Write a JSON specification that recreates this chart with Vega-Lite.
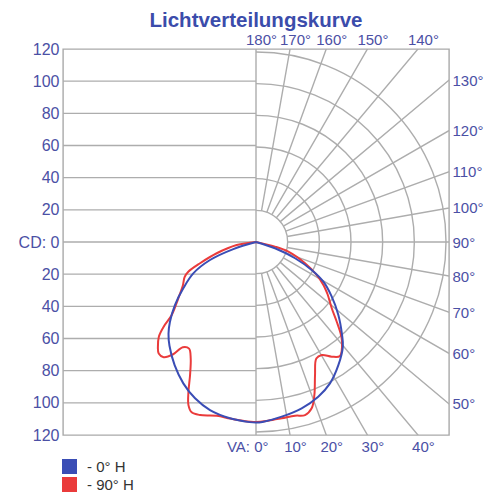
{
  "$schema": "https://vega.github.io/schema/vega-lite/v6.json",
  "width": 386,
  "height": 386,
  "autosize": {"type": "none"},
  "padding": {"left": 63, "top": 49, "right": 47, "bottom": 57},
  "background": "white",
  "title": {"text": "Lichtverteilungskurve", "fontSize": 20.5, "font": "Liberation Sans", "fontWeight": "bold", "color": "#3b4cab", "anchor": "middle", "offset": 1},
  "config": {
    "view": {"stroke": "#a9a9a9", "strokeWidth": 1.4},
    "axis": {"labelFont": "Liberation Sans", "labelFontSize": 15, "labelColor": "#4b50a5", "domain": false, "ticks": false, "grid": false}
  },
  "resolve": {"axis": {"x": "independent", "y": "independent"}},
  "datasets": {
    "hlines": [{"v": -100}, {"v": -80}, {"v": -60}, {"v": -40}, {"v": -20}, {"v": 0}, {"v": 20}, {"v": 40}, {"v": 60}, {"v": 80}, {"v": 100}],
    "arcs": [{"r": 20}, {"r": 40}, {"r": 60}, {"r": 80}, {"r": 100}, {"r": 120}],
    "rays": [{"va": 10}, {"va": 20}, {"va": 30}, {"va": 40}, {"va": 50}, {"va": 60}, {"va": 70}, {"va": 80}, {"va": 90}, {"va": 100}, {"va": 110}, {"va": 120}, {"va": 130}, {"va": 140}, {"va": 150}, {"va": 160}, {"va": 170}],
    "blue": [
      {"s": "0° H", "i": 0, "x": 0, "y": 0},
      {"s": "0° H", "i": 1, "x": -14.1, "y": -4.4},
      {"s": "0° H", "i": 2, "x": -28.6, "y": -11.2},
      {"s": "0° H", "i": 3, "x": -39, "y": -19.5},
      {"s": "0° H", "i": 4, "x": -45.2, "y": -28.8},
      {"s": "0° H", "i": 5, "x": -50.4, "y": -39.2},
      {"s": "0° H", "i": 6, "x": -53.5, "y": -49.6},
      {"s": "0° H", "i": 7, "x": -54.4, "y": -57},
      {"s": "0° H", "i": 8, "x": -53.8, "y": -64.5},
      {"s": "0° H", "i": 9, "x": -50.6, "y": -76.6},
      {"s": "0° H", "i": 10, "x": -45.2, "y": -87.9},
      {"s": "0° H", "i": 11, "x": -37.9, "y": -97.2},
      {"s": "0° H", "i": 12, "x": -28.6, "y": -104.5},
      {"s": "0° H", "i": 13, "x": -16.2, "y": -109.6},
      {"s": "0° H", "i": 14, "x": -4, "y": -112},
      {"s": "0° H", "i": 15, "x": 0, "y": -112.3},
      {"s": "0° H", "i": 16, "x": 4, "y": -111.9},
      {"s": "0° H", "i": 17, "x": 16, "y": -108.6},
      {"s": "0° H", "i": 18, "x": 28.4, "y": -103.4},
      {"s": "0° H", "i": 19, "x": 38.7, "y": -96.2},
      {"s": "0° H", "i": 20, "x": 46, "y": -87.9},
      {"s": "0° H", "i": 21, "x": 51.2, "y": -76.6},
      {"s": "0° H", "i": 22, "x": 54, "y": -65},
      {"s": "0° H", "i": 23, "x": 53.5, "y": -57.8},
      {"s": "0° H", "i": 24, "x": 51.2, "y": -45.4},
      {"s": "0° H", "i": 25, "x": 47.1, "y": -34},
      {"s": "0° H", "i": 26, "x": 41.9, "y": -24.7},
      {"s": "0° H", "i": 27, "x": 34.6, "y": -17.4},
      {"s": "0° H", "i": 28, "x": 24.3, "y": -10.1},
      {"s": "0° H", "i": 29, "x": 11.8, "y": -3.9},
      {"s": "0° H", "i": 30, "x": 0, "y": 0}
    ],
    "red": [
      {"s": "90° H", "i": 0, "x": 0, "y": 0},
      {"s": "90° H", "i": 1, "x": -12, "y": -1.9},
      {"s": "90° H", "i": 2, "x": -24.4, "y": -7},
      {"s": "90° H", "i": 3, "x": -34.8, "y": -13.2},
      {"s": "90° H", "i": 4, "x": -42.1, "y": -18.5},
      {"s": "90° H", "i": 5, "x": -44.4, "y": -21.8},
      {"s": "90° H", "i": 6, "x": -45.4, "y": -26.7},
      {"s": "90° H", "i": 7, "x": -48.3, "y": -35},
      {"s": "90° H", "i": 8, "x": -52.4, "y": -45.4},
      {"s": "90° H", "i": 9, "x": -57.3, "y": -52.5},
      {"s": "90° H", "i": 10, "x": -60.4, "y": -58.9},
      {"s": "90° H", "i": 11, "x": -61, "y": -65.5},
      {"s": "90° H", "i": 12, "x": -60.5, "y": -69.3},
      {"s": "90° H", "i": 13, "x": -57.4, "y": -71.6},
      {"s": "90° H", "i": 14, "x": -51.5, "y": -69.8},
      {"s": "90° H", "i": 15, "x": -45.5, "y": -65.4},
      {"s": "90° H", "i": 16, "x": -41.6, "y": -66.3},
      {"s": "90° H", "i": 17, "x": -40.6, "y": -72.3},
      {"s": "90° H", "i": 18, "x": -41, "y": -82.7},
      {"s": "90° H", "i": 19, "x": -42, "y": -93.1},
      {"s": "90° H", "i": 20, "x": -42, "y": -101.4},
      {"s": "90° H", "i": 21, "x": -40, "y": -105.9},
      {"s": "90° H", "i": 22, "x": -34.8, "y": -107.6},
      {"s": "90° H", "i": 23, "x": -24.4, "y": -108},
      {"s": "90° H", "i": 24, "x": -16, "y": -109.8},
      {"s": "90° H", "i": 25, "x": -8, "y": -111.2},
      {"s": "90° H", "i": 26, "x": 0, "y": -111.9},
      {"s": "90° H", "i": 27, "x": 7.5, "y": -111.1},
      {"s": "90° H", "i": 28, "x": 16, "y": -109.6},
      {"s": "90° H", "i": 29, "x": 24.3, "y": -108},
      {"s": "90° H", "i": 30, "x": 30.5, "y": -107.6},
      {"s": "90° H", "i": 31, "x": 34.6, "y": -103.4},
      {"s": "90° H", "i": 32, "x": 36.3, "y": -95.1},
      {"s": "90° H", "i": 33, "x": 36.7, "y": -82.7},
      {"s": "90° H", "i": 34, "x": 37.5, "y": -72.5},
      {"s": "90° H", "i": 35, "x": 40.9, "y": -70.3},
      {"s": "90° H", "i": 36, "x": 47.1, "y": -71.3},
      {"s": "90° H", "i": 37, "x": 52.2, "y": -70.9},
      {"s": "90° H", "i": 38, "x": 53.5, "y": -62},
      {"s": "90° H", "i": 39, "x": 52.5, "y": -56.5},
      {"s": "90° H", "i": 40, "x": 50.2, "y": -49.6},
      {"s": "90° H", "i": 41, "x": 47.1, "y": -41.2},
      {"s": "90° H", "i": 42, "x": 44.5, "y": -32.5},
      {"s": "90° H", "i": 43, "x": 42.8, "y": -28.5},
      {"s": "90° H", "i": 44, "x": 41.9, "y": -26.7},
      {"s": "90° H", "i": 45, "x": 37.7, "y": -20.5},
      {"s": "90° H", "i": 46, "x": 30.5, "y": -13.2},
      {"s": "90° H", "i": 47, "x": 20.1, "y": -6},
      {"s": "90° H", "i": 48, "x": 11.8, "y": -2.9},
      {"s": "90° H", "i": 49, "x": 0, "y": 0}
    ]
  },
  "layer": [
    {
      "data": {"name": "hlines"},
      "mark": {"type": "rule", "stroke": "#adadad", "strokeWidth": 1.4},
      "encoding": {
        "x": {"datum": -120, "type": "quantitative", "scale": {"domain": [-120, 120], "nice": false, "zero": false},
          "axis": {"orient": "top", "title": null, "values": [0, 21.16, 43.68, 69.28, 100.69],
            "labelExpr": "(180 - round(atan(datum.value/120)*18/PI)*10) + '°'", "labelOffset": 5, "labelPadding": 2, "labelFlush": false, "labelOverlap": false}},
        "x2": {"datum": 0},
        "y": {"field": "v", "type": "quantitative", "scale": {"domain": [-120, 120], "nice": false, "zero": false},
          "axis": {"orient": "left", "title": null, "values": [-120, -100, -80, -60, -40, -20, 0, 20, 40, 60, 80, 100, 120],
            "labelExpr": "datum.value == 0 ? 'CD: 0' : abs(datum.value)", "labelPadding": 4, "labelFontSize": 16, "labelFlush": false, "labelOverlap": false}}
      }
    },
    {
      "data": {"values": [{"c": 0}]},
      "mark": {"type": "rule", "stroke": "#adadad", "strokeWidth": 1.4},
      "encoding": {
        "x": {"field": "c", "type": "quantitative", "axis": null}
      }
    },
    {
      "data": {"name": "arcs"},
      "mark": {"type": "arc", "theta": 0, "theta2": 3.14159, "filled": false, "stroke": "#adadad", "strokeWidth": 1.4},
      "encoding": {
        "x": {"datum": 0, "type": "quantitative",
          "axis": {"orient": "bottom", "title": null, "values": [0, 21.16, 43.68, 69.28, 100.69],
            "labelExpr": "datum.value == 0 ? 'VA: 0°' : (round(atan(datum.value/120)*18/PI)*10) + '°'",
            "labelAlign": {"condition": {"test": "datum.value == 0", "value": "right"}, "value": "center"},
            "labelOffset": {"condition": {"test": "datum.value == 0", "value": 12}, "value": 5},
            "labelPadding": 4, "labelFlush": false, "labelOverlap": false}},
        "y": {"datum": 0, "type": "quantitative",
          "axis": {"orient": "right", "title": null, "values": [100.69, 69.28, 43.68, 21.16, 0, -21.16, -43.68, -69.28, -100.69],
            "labelExpr": "(90 + round(atan(datum.value/120)*18/PI)*10) + '°'", "labelPadding": 3, "labelFlush": false, "labelOverlap": false}},
        "radius": {"field": "r", "type": "quantitative", "scale": {"type": "linear", "domain": [0, 120], "range": [0, 190], "zero": true}},
        "radius2": {"field": "r"}
      }
    },
    {
      "data": {"name": "rays"},
      "mark": {"type": "arc", "clip": true, "filled": false, "stroke": "#adadad", "strokeWidth": 1.4},
      "encoding": {
        "x": {"datum": 0, "type": "quantitative", "axis": null},
        "y": {"datum": 0, "type": "quantitative", "axis": null},
        "theta": {"field": "va", "type": "quantitative", "stack": null, "scale": {"type": "linear", "domain": [0, 180], "range": [3.14159265, 0]}},
        "theta2": {"field": "va"},
        "radius": {"datum": 20, "type": "quantitative"},
        "radius2": {"datum": 180}
      }
    },
    {
      "data": {"name": "red"},
      "mark": {"type": "line", "interpolate": "catmull-rom", "strokeWidth": 2},
      "encoding": {
        "x": {"field": "x", "type": "quantitative", "axis": null},
        "y": {"field": "y", "type": "quantitative", "axis": null},
        "order": {"field": "i", "type": "quantitative"},
        "color": {"field": "s", "type": "nominal", "scale": {"domain": ["0° H", "90° H"], "range": ["#3a4db5", "#ea3b3b"]},
          "legend": {"orient": "none", "legendX": -1, "legendY": 410, "title": null, "symbolType": "square", "symbolSize": 225, "symbolStrokeWidth": 0,
            "labelFont": "Liberation Sans", "labelFontSize": 15, "labelColor": "#333333", "labelExpr": "'- ' + datum.label", "rowPadding": 2, "padding": 0, "labelOffset": 10,
            "encode": {"symbols": {"update": {"fill": {"scale": "color", "field": "value"}, "fillOpacity": {"value": 1}}}}}}
      }
    },
    {
      "data": {"name": "blue"},
      "mark": {"type": "line", "interpolate": "catmull-rom", "strokeWidth": 2},
      "encoding": {
        "x": {"field": "x", "type": "quantitative", "axis": null},
        "y": {"field": "y", "type": "quantitative", "axis": null},
        "order": {"field": "i", "type": "quantitative"},
        "color": {"field": "s", "type": "nominal"}
      }
    }
  ]
}
